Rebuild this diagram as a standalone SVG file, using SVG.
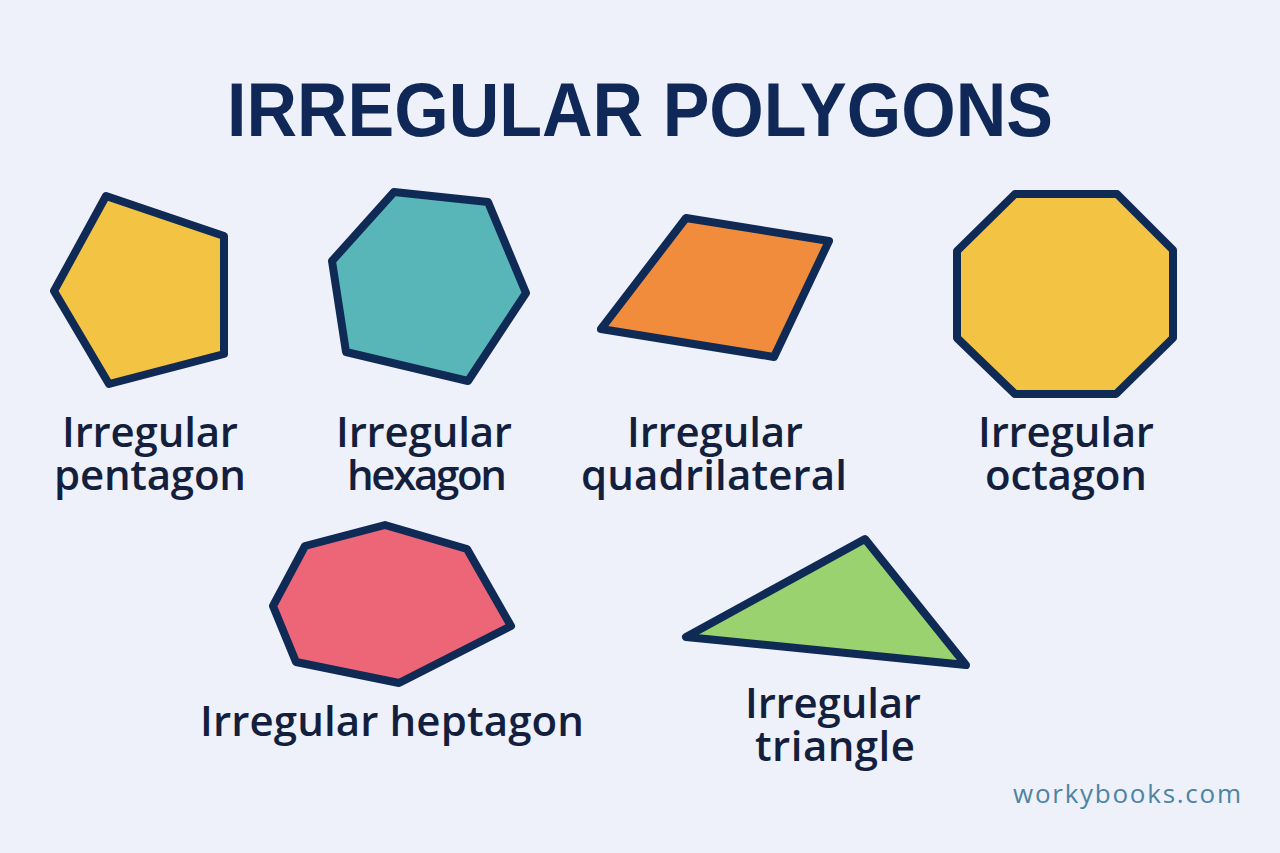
<svg xmlns="http://www.w3.org/2000/svg" width="1280" height="853" viewBox="0 0 1280 853">
<style>
.shape{stroke:#102a56;stroke-width:8;stroke-linejoin:round}
.lbl{font-family:"Open Sans","Noto Sans",sans-serif;font-size:42px;font-weight:600;fill:#131f3d;text-anchor:middle}
.title{font-family:"Liberation Sans",Arial,sans-serif;font-size:76px;font-weight:bold;fill:#0f2857;text-anchor:middle}
.brand{font-family:"Open Sans","Noto Sans",sans-serif;font-size:26px;fill:#4d84a2}
</style>
<rect x="0" y="0" width="1280" height="853" fill="#eef1fa"/>
<text class="title" x="640" y="136" textLength="826" lengthAdjust="spacingAndGlyphs">IRREGULAR POLYGONS</text>
<g id="pentagon">
<polygon class="shape" fill="#f3c444" points="106,196 224,236 224,354 109,384 54,291"/>
<text class="lbl" x="150" y="447" textLength="176">Irregular</text>
<text class="lbl" x="150" y="490" textLength="192">pentagon</text>
</g>
<g id="hexagon">
<polygon class="shape" fill="#58b6b9" points="394,192 488,202 526,293 468,381 346,352 332,261"/>
<text class="lbl" x="424" y="447" textLength="176">Irregular</text>
<text class="lbl" x="427" y="490" textLength="160">hexagon</text>
</g>
<g id="quadrilateral">
<polygon class="shape" fill="#f28c3d" points="686,218 829,241 774,357 601,329"/>
<text class="lbl" x="715" y="447" textLength="176">Irregular</text>
<text class="lbl" x="714" y="490" textLength="266">quadrilateral</text>
</g>
<g id="octagon">
<polygon class="shape" fill="#f3c444" points="1015,194 1117,194 1173,250 1173,338 1116,394 1015,394 957,338 957,251"/>
<text class="lbl" x="1066" y="447" textLength="176">Irregular</text>
<text class="lbl" x="1066" y="490" textLength="162">octagon</text>
</g>
<g id="heptagon">
<polygon class="shape" fill="#ec6677" points="385,525 467,549 511,626 399,683 296,662 273,606 305,546"/>
<text class="lbl" x="392" y="736" textLength="384">Irregular heptagon</text>
</g>
<g id="triangle">
<polygon class="shape" fill="#99d26f" points="865,539 686,637 966,665"/>
<text class="lbl" x="833" y="718" textLength="176">Irregular</text>
<text class="lbl" x="835" y="761" textLength="160">triangle</text>
</g>
<g id="connectors"></g>
<text class="brand" x="1013" y="803" textLength="228">workybooks.com</text>
</svg>
